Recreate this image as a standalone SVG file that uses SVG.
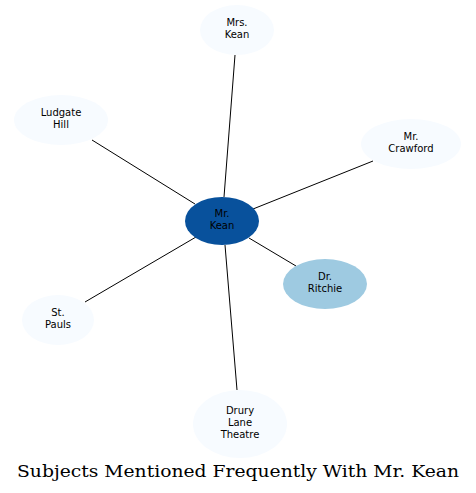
<svg xmlns="http://www.w3.org/2000/svg" width="476" height="493" viewBox="0 0 476 493">
<style>
.n{fill:#f7fbff;stroke:none}
.t{font-family:"DejaVu Sans",sans-serif;font-size:10px;fill:#000;text-anchor:middle}
.e{stroke:#000;stroke-width:1;fill:none}
</style>
<rect width="476" height="493" fill="#fff"/>
<g id="edges">
<line class="e" x1="224" y1="197" x2="235" y2="55"/>
<line class="e" x1="195" y1="204" x2="92" y2="140"/>
<line class="e" x1="253" y1="209" x2="373" y2="161"/>
<line class="e" x1="249" y1="238" x2="296" y2="266"/>
<line class="e" x1="196" y1="237" x2="85" y2="302"/>
<line class="e" x1="225" y1="245" x2="237" y2="390"/>
</g>
<g id="mrs_kean"><ellipse class="n" cx="237" cy="30" rx="37" ry="25"/><text class="t" x="237" y="26">Mrs.</text><text class="t" x="237" y="38">Kean</text></g>
<g id="ludgate_hill"><ellipse class="n" cx="61" cy="120" rx="47" ry="25"/><text class="t" x="61" y="116">Ludgate</text><text class="t" x="61" y="128">Hill</text></g>
<g id="mr_crawford"><ellipse class="n" cx="411" cy="144" rx="50" ry="25"/><text class="t" x="411" y="140">Mr.</text><text class="t" x="411" y="152">Crawford</text></g>
<g id="mr_kean"><ellipse cx="222" cy="221" rx="37" ry="24" fill="#08519c"/><text class="t" x="222" y="217">Mr.</text><text class="t" x="222" y="229">Kean</text></g>
<g id="dr_ritchie"><ellipse cx="325" cy="284" rx="42" ry="25" fill="#9ecae1"/><text class="t" x="325" y="280">Dr.</text><text class="t" x="325" y="292">Ritchie</text></g>
<g id="st_pauls"><ellipse class="n" cx="58" cy="320" rx="36" ry="25"/><text class="t" x="58" y="316">St.</text><text class="t" x="58" y="328">Pauls</text></g>
<g id="drury_lane_theatre"><ellipse class="n" cx="240" cy="424" rx="47" ry="34"/><text class="t" x="240" y="414">Drury</text><text class="t" x="240" y="426">Lane</text><text class="t" x="240" y="438">Theatre</text></g>
<text x="238" y="477" font-family="DejaVu Serif,serif" font-size="17" text-anchor="middle" textLength="442" lengthAdjust="spacingAndGlyphs">Subjects Mentioned Frequently With Mr. Kean</text>
</svg>
